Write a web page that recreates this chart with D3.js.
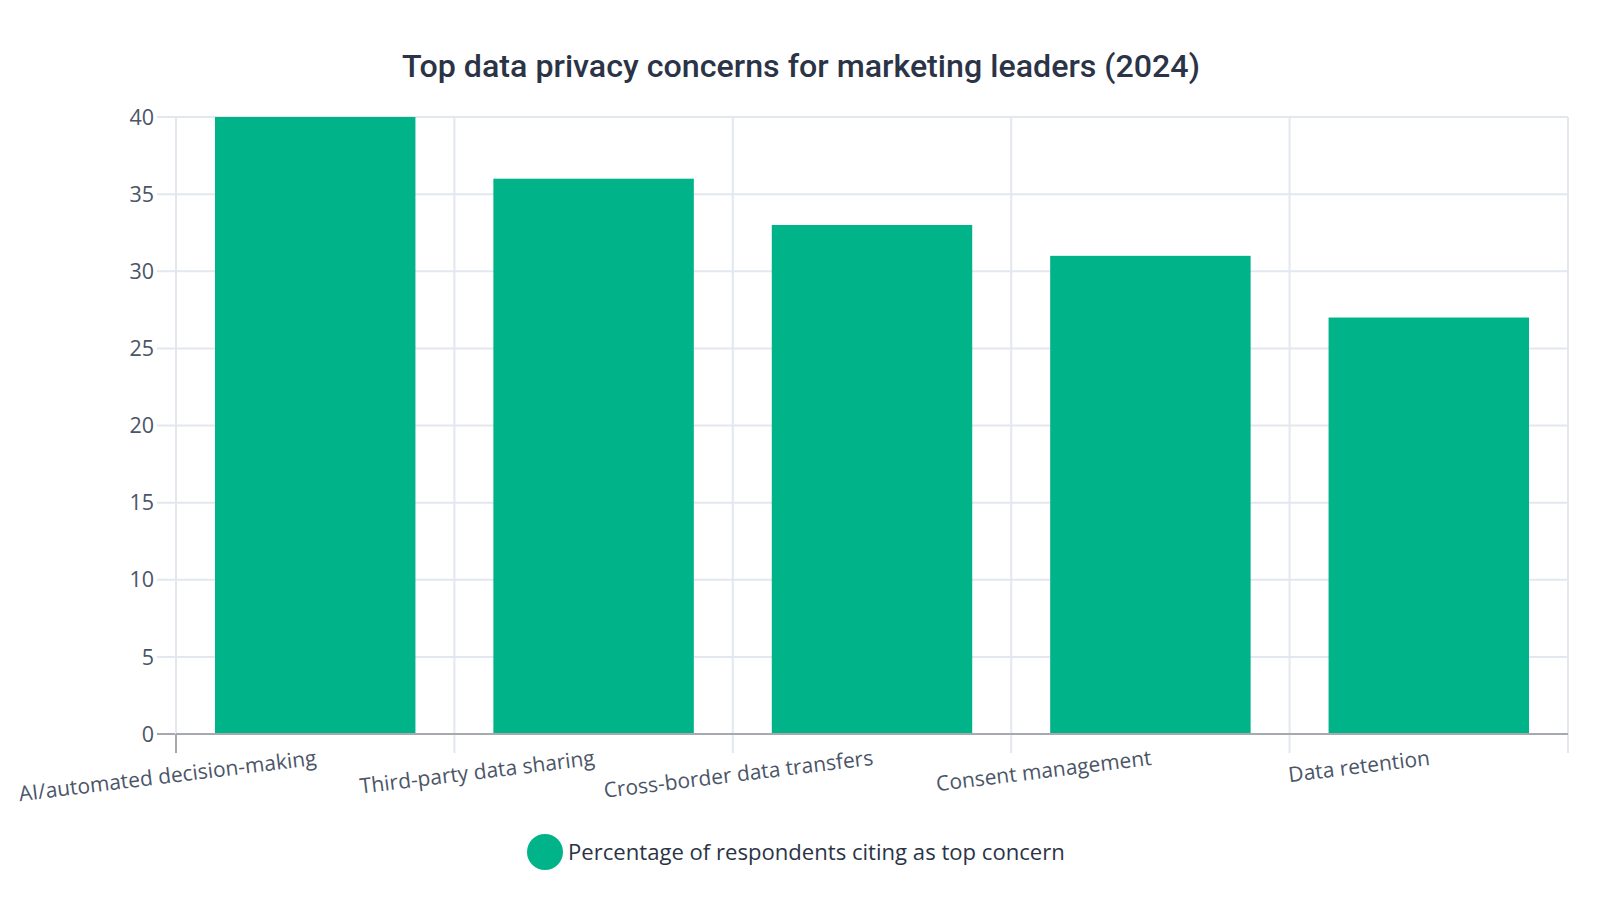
<!DOCTYPE html>
<html>
<head>
<meta charset="utf-8">
<script src="https://cdn.jsdelivr.net/npm/d3@7"></script>
<style>
  body { margin: 0; background: #fff; }
  svg { display: block; }
</style>
</head>
<body>
<svg id="chart"></svg>
<script>
// data
var categories = ["AI/automated decision-making", "Third-party data sharing", "Cross-border data transfers", "Consent management", "Data retention"];
var values = [40, 36, 33, 31, 27];
var yTicks = [0, 5, 10, 15, 20, 25, 30, 35, 40];
var seriesName = "Percentage of respondents citing as top concern";
var title = "Top data privacy concerns for marketing leaders (2024)";

var W = 1600, H = 900;
var margin = {top: 117, right: 32, bottom: 166, left: 176};
var barColor = "#00b388";
var gridColor = "#e3e7ef";
var axisColor = "#a6a9ae";

var svg = d3.select("#chart").attr("width", W).attr("height", H);

var x = d3.scaleBand()
    .domain(categories)
    .range([margin.left, W - margin.right])
    .paddingInner(0.28)
    .paddingOuter(0.14);

var y = d3.scaleLinear()
    .domain([0, 40])
    .range([H - margin.bottom, margin.top]);

var step = x.step();
var boundaries = d3.range(categories.length + 1).map(function(i) { return margin.left + i * step; });

// horizontal grid (with ticks sticking out left)
svg.append("g").selectAll("line")
    .data(yTicks)
  .enter().append("line")
    .attr("x1", margin.left - 19)
    .attr("x2", W - margin.right)
    .attr("y1", function(d) { return y(d); })
    .attr("y2", function(d) { return y(d); })
    .attr("stroke", function(d) { return d === 0 ? axisColor : gridColor; })
    .attr("stroke-width", 2);

// vertical grid on category boundaries
svg.append("g").selectAll("line")
    .data(boundaries)
  .enter().append("line")
    .attr("x1", function(d) { return d; })
    .attr("x2", function(d) { return d; })
    .attr("y1", margin.top)
    .attr("y2", H - margin.bottom + 19)
    .attr("stroke", gridColor)
    .attr("stroke-width", 2);

// bars
svg.append("g").selectAll("rect")
    .data(values)
  .enter().append("rect")
    .attr("x", function(d, i) { return x(categories[i]); })
    .attr("width", x.bandwidth())
    .attr("y", function(d) { return y(d); })
    .attr("height", function(d) { return y(0) - y(d); })
    .attr("fill", barColor);

// x axis line + first tick in axis grey
svg.append("line")
    .attr("x1", margin.left).attr("x2", W - margin.right)
    .attr("y1", y(0)).attr("y2", y(0))
    .attr("stroke", axisColor).attr("stroke-width", 2);
svg.append("line")
    .attr("x1", margin.left).attr("x2", margin.left)
    .attr("y1", y(0)).attr("y2", y(0) + 19)
    .attr("stroke", axisColor).attr("stroke-width", 2);

// y tick labels
svg.append("g").selectAll("text")
    .data(yTicks)
  .enter().append("text")
    .attr("x", margin.left - 22)
    .attr("y", function(d) { return y(d); })
    .attr("dy", "0.36em")
    .attr("text-anchor", "end")
    .attr("font-family", "'Open Sans', sans-serif")
    .attr("font-size", 21.5)
    .attr("fill", "#4b5568")
    .text(function(d) { return d; });

// x tick labels, rotated
var labelY = y(0) + 16;
svg.append("g").selectAll("text")
    .data(categories)
  .enter().append("text")
    .attr("transform", function(d) {
      return "translate(" + (x(d) + x.bandwidth() / 2) + "," + labelY + ") rotate(-7)";
    })
    .attr("dy", "0.71em")
    .attr("text-anchor", "end")
    .attr("font-family", "'Open Sans', sans-serif")
    .attr("font-size", 21)
    .attr("fill", "#4b5568")
    .text(function(d) { return d; });

// title
svg.append("text")
    .attr("x", 801)
    .attr("y", 77)
    .attr("text-anchor", "middle")
    .attr("font-family", "Roboto, sans-serif")
    .attr("font-weight", 500)
    .attr("font-size", 32.2)
    .attr("fill", "#2b3446")
    .text(title);

// legend
var legend = svg.append("g").attr("transform", "translate(545,852)");
legend.append("circle").attr("r", 18).attr("fill", barColor);
legend.append("text")
    .attr("x", 23)
    .attr("dy", "0.36em")
    .attr("font-family", "'Open Sans', sans-serif")
    .attr("font-size", 22.1)
    .attr("fill", "#2b3446")
    .text(seriesName);
</script>
</body>
</html>
